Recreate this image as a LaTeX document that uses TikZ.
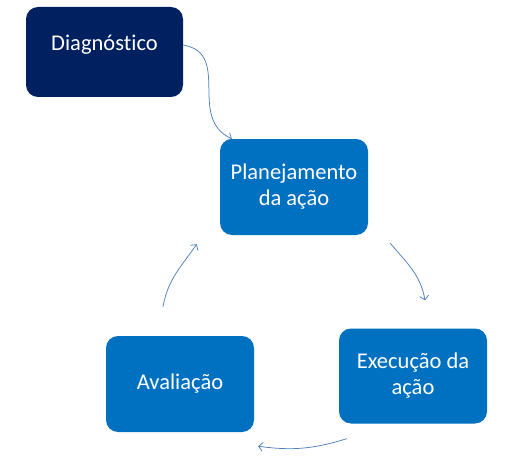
\documentclass[tikz,border=0pt]{standalone}
\usepackage{fontspec}
\setmainfont{Carlito}[Ligatures=NoCommon]
\usetikzlibrary{arrows.meta}
\definecolor{navy}{HTML}{002060}
\definecolor{azul}{HTML}{0070C0}
\definecolor{seta}{HTML}{4F81BD}
\begin{document}
\begin{tikzpicture}[x=1pt, y=1pt,
        caixa/.style={rounded corners=12pt, fill=azul, text=white, align=center,
                inner sep=0pt, minimum width=148pt, minimum height=96pt,
                font=\fontsize{22.5}{26}\selectfont},
        seta/.style={draw=seta, line width=0.75pt, -{Straight Barb[length=4pt,width=9pt]}}]
        \useasboundingbox (0,0) rectangle (528,459);
        \node[caixa, fill=navy, minimum width=157pt, minimum height=90pt] (diag) at (104.5,407) {};
        \node[text=white, font=\fontsize{22.5}{26}\selectfont] (diagtxt) at ([yshift=7]diag.center) {Diagnóstico};
        \node[caixa] (plan) at (294,272) {Planejamento\\da ação};
        \node[caixa, minimum height=95pt] (exec) at (413,83) {Execução da\\ação};
        \node[caixa] (aval) at (180,75) {Avaliação};
        % pontas das setas
        \coordinate (d1) at (diag.east |- diagtxt);
        \coordinate (d2) at ([xshift=12]plan.north west);
        \coordinate (p1) at ([shift={(22,-8)}]plan.south east);
        \coordinate (p2) at ([shift={(12,28)}]exec.north);
        \coordinate (e1) at ([shift={(8,-15)}]exec.south west);
        \coordinate (e2) at ([shift={(4,-14)}]aval.south east);
        \coordinate (a1) at ([shift={(-17,29)}]aval.north);
        \coordinate (a2) at ([shift={(-23,-9)}]plan.south west);
        \draw[seta] (d1) to[out=-10, in=155, looseness=1.2] (d2);
        \draw[seta] (p1) to[out=-50, in=100] (p2);
        \draw[seta] (e1) to[out=197, in=-8] (e2);
        \draw[seta] (a1) to[out=80, in=-125] (a2);
    \end{tikzpicture}
\end{document}
